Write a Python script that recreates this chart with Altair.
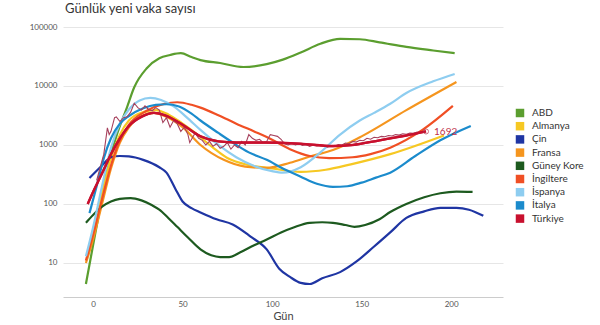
import altair as alt
import pandas as pd

countries = ["ABD", "Almanya", "Çin", "Fransa", "Güney Kore", "İngiltere", "İspanya", "İtalya", "Türkiye"]
colors = ["#5b9e2f", "#f6c823", "#1f35a3", "#f5951e", "#1d5a1f", "#f04f24", "#8ecdf0", "#1b8bcc", "#c8102e"]

abd_days = [-4, 0, 4, 8, 13, 19, 23, 30, 37, 43, 49, 55, 60, 71, 84, 97, 106, 116, 127, 138, 149, 160, 175, 190, 202]
abd_vals = [4.4, 20, 90, 400, 1400, 4400, 9500, 20000, 29500, 33500, 36000, 31000, 27500, 24500, 21000, 23500, 28000, 37000, 52000, 63000, 62000, 55000, 46000, 40000, 36000]

almanya_days = [-3, 5, 10, 15, 20, 28, 35, 42, 50, 56, 67, 75, 88, 100, 116, 130, 144, 166, 196]
almanya_vals = [15, 150, 600, 1500, 2600, 3600, 3900, 3300, 2300, 1700, 900, 600, 450, 400, 350, 380, 470, 700, 1450]

cin_days = [-2, 5, 10, 15, 20, 28, 37, 41, 46, 50, 55, 60, 69, 78, 88, 97, 104, 110, 116, 121, 128, 138, 147, 157, 166, 175, 185, 194, 203, 210, 218]
cin_vals = [276, 450, 620, 650, 640, 560, 420, 340, 180, 110, 85, 72, 55, 45, 28, 17, 8, 5.8, 4.6, 4.4, 5.5, 7, 10.5, 19, 33, 58, 75, 86, 86, 80, 63]

fransa_days = [-4, 0, 5, 10, 15, 20, 27, 34, 40, 50, 60, 73, 85, 97, 110, 122, 134, 150, 175, 203]
fransa_vals = [10, 25, 100, 400, 1100, 2000, 3100, 3500, 3100, 2000, 1000, 560, 430, 410, 500, 650, 820, 1400, 3900, 11700]

kore_days = [-4, 0, 5, 10, 15, 21, 27, 33, 37, 42, 47, 53, 60, 66, 71, 76, 82, 90, 97, 105, 112, 121, 128, 134, 141, 146, 152, 160, 166, 175, 185, 194, 203, 212]
kore_vals = [48, 65, 90, 110, 122, 126, 115, 95, 80, 58, 41, 27, 17, 13.5, 12.6, 12.6, 15, 20, 25, 33, 40, 48, 49, 48, 44, 41, 44, 55, 73, 100, 130, 152, 162, 160]

ingiltere_days = [-4, 0, 5, 10, 15, 20, 30, 40, 47, 55, 60, 70, 80, 90, 97, 110, 121, 132, 145, 155, 166, 184, 201]
ingiltere_vals = [11, 30, 120, 450, 1200, 2200, 3800, 5000, 5300, 4800, 4300, 3200, 2300, 1700, 1370, 850, 650, 600, 620, 700, 900, 1800, 4600]

ispanya_days = [-4, 0, 5, 10, 15, 20, 26, 32, 38, 45, 52, 60, 70, 80, 90, 100, 106, 116, 127, 138, 149, 157, 166, 175, 190, 202]
ispanya_vals = [13, 40, 200, 900, 2300, 4000, 5700, 6300, 5800, 4500, 3000, 1800, 1000, 620, 440, 360, 340, 420, 750, 1500, 2600, 3500, 5000, 7600, 12000, 16000]

italya_days = [-2, 2, 6, 10, 15, 20, 28, 35, 41, 48, 55, 60, 70, 78, 87, 97, 106, 116, 125, 134, 142, 150, 158, 166, 180, 194, 211]
italya_vals = [70, 200, 600, 1300, 2300, 3100, 4200, 4800, 4900, 4500, 3400, 2600, 1600, 1100, 750, 560, 400, 290, 220, 195, 200, 230, 280, 340, 650, 1200, 2100]

turkiye_days = [-3, 0, 5, 10, 15, 20, 27, 34, 40, 50, 60, 70, 80, 97, 116, 134, 145, 160, 175, 186]
turkiye_vals = [100, 160, 330, 700, 1300, 2100, 3000, 3500, 3200, 2200, 1400, 1150, 1100, 1100, 1050, 960, 1000, 1200, 1450, 1700]

raw_days = [2, 4, 6, 8, 9, 10, 12, 13, 15, 17, 19, 21, 23, 25, 27, 29, 31, 33, 35, 37, 39, 41, 43, 45, 47, 49, 51, 53, 54, 57, 59, 61, 63, 65, 67, 69, 71, 73, 75, 77, 79, 81, 83, 85, 87, 89, 91, 93, 95, 97, 99, 101, 103, 105, 107, 109, 111, 113, 115, 117, 119, 121, 123, 125, 127, 129, 131, 133, 135, 137, 139, 141, 143, 145, 147, 149, 151, 153, 155, 157, 159, 161, 163, 165, 167, 169, 171, 173, 175, 177, 179, 181, 183, 185, 186]
raw_vals = [250, 420, 700, 1950, 1500, 1700, 2900, 3000, 2500, 2900, 3000, 3600, 5100, 4300, 3900, 4600, 4000, 3800, 4300, 3900, 2400, 2900, 2000, 2600, 2300, 1700, 2000, 1500, 1100, 1600, 1300, 1200, 1000, 1150, 950, 1050, 880, 950, 1100, 850, 1000, 900, 1150, 1000, 1500, 1300, 1200, 1250, 1100, 1150, 1500, 1450, 1400, 1250, 1050, 1000, 1080, 1000, 1050, 980, 1020, 950, 1000, 960, 1000, 980, 920, 980, 950, 1020, 1000, 1080, 1050, 1150, 1120, 1200, 1180, 1300, 1250, 1350, 1330, 1400, 1380, 1450, 1420, 1500, 1470, 1550, 1520, 1600, 1580, 1650, 1630, 1700, 1692]

last_day = [186]
last_val = [1692]
last_label = ["1692"]

series = [abd_days, almanya_days, cin_days, fransa_days, kore_days, ingiltere_days, ispanya_days, italya_days, turkiye_days]
values = [abd_vals, almanya_vals, cin_vals, fransa_vals, kore_vals, ingiltere_vals, ispanya_vals, italya_vals, turkiye_vals]

rows = []
for name, ds, vs in zip(countries, series, values):
    for d, v in zip(ds, vs):
        rows.append({"ülke": name, "gün": d, "vaka": v, "sıra": countries.index(name)})
df = pd.DataFrame(rows)
legend_df = pd.DataFrame({"ad": countries, "gün": [s[0] for s in series], "vaka": [v[0] for v in values]})
raw_df = pd.DataFrame({"gün": raw_days, "vaka": raw_vals})
last_df = pd.DataFrame({"gün": last_day, "vaka": last_val, "etiket": last_label})

FONT = "Lato"

x_enc = alt.X("gün:Q", scale=alt.Scale(domain=[-16.8, 229], nice=False, zero=False),
              axis=alt.Axis(title="Gün", values=[0, 50, 100, 150, 200], grid=False, ticks=False,
                            domainColor="#cccccc", labelColor="#555555", labelFontSize=8,
                            labelPadding=3, titleFontSize=11, titleFontWeight="normal",
                            titleColor="#444444", titlePadding=2))
y_enc = alt.Y("vaka:Q", scale=alt.Scale(type="log", domain=[2.65, 100000], nice=False),
              axis=alt.Axis(title=None, values=[10, 100, 1000, 10000, 100000], format="d",
                            domain=False, ticks=False, gridColor="#e6e6e6", labelColor="#555555",
                            labelFontSize=8, labelPadding=6))

lines = alt.Chart(df).mark_line(strokeWidth=2.2, interpolate="monotone").encode(
    x=x_enc, y=y_enc,
    color=alt.Color("ülke:N", scale=alt.Scale(domain=countries, range=colors), legend=None),
    order="sıra:Q",
)

# tiny invisible squares that carry the filled-square legend
legend_layer = alt.Chart(legend_df).mark_square(opacity=0, size=1).encode(
    x="gün:Q", y="vaka:Q",
    fill=alt.Fill("ad:N", scale=alt.Scale(domain=countries, range=colors),
                  legend=alt.Legend(title=None, orient="none", legendX=452, legendY=81,
                                    symbolType="square", symbolSize=72, symbolStrokeWidth=0,
                                    symbolOpacity=1, labelFontSize=10, labelColor="#333333",
                                    labelOffset=7, rowPadding=3.2)),
)

raw = alt.Chart(raw_df).mark_line(strokeWidth=1.1, color="#a6405c").encode(x="gün:Q", y="vaka:Q")
smooth_tr = alt.Chart(df[df["ülke"] == "Türkiye"]).mark_line(strokeWidth=2.4, interpolate="monotone", color="#c8102e").encode(x="gün:Q", y="vaka:Q")
marker = alt.Chart(last_df).mark_point(shape="circle", filled=False, size=25, color="#b5304a", strokeWidth=1).encode(x="gün:Q", y="vaka:Q")
label = alt.Chart(last_df).mark_text(align="left", dx=8, dy=0, fontSize=10, color="#c0304a", font=FONT).encode(x="gün:Q", y="vaka:Q", text="etiket:N")

chart = alt.layer(lines, legend_layer, raw, smooth_tr, marker, label).resolve_scale(
    color="independent", fill="independent"
).properties(
    width=440, height=270,
    autosize=alt.AutoSizeParams(type="none"),
    padding={"left": 63, "top": 27, "right": 97, "bottom": 28},
    title=alt.TitleParams("Günlük yeni vaka sayısı", anchor="start", frame="group", fontSize=13,
                          fontWeight="normal", color="#333333", font=FONT, offset=7, dx=2),
).configure(font=FONT).configure_view(stroke=None).configure_axis(labelFont=FONT, titleFont=FONT).configure_legend(labelFont=FONT)

chart.save("out.html", embed_options={"renderer": "svg", "actions": False})
